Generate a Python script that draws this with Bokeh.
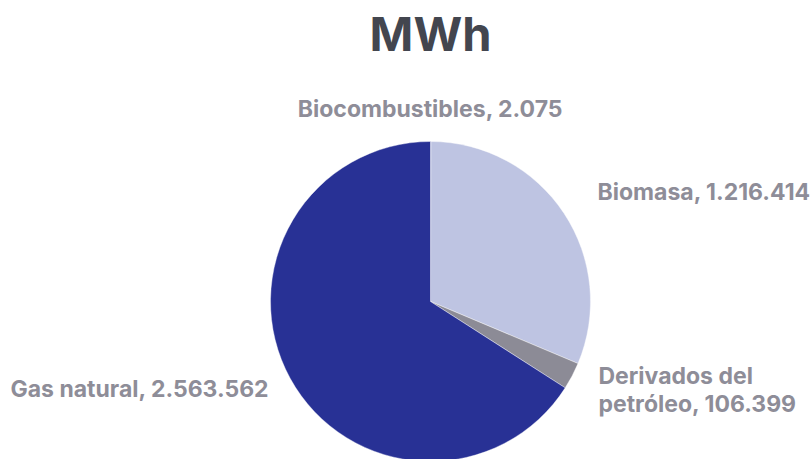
import math
from bokeh.plotting import figure
from bokeh.models import Range1d, ColumnDataSource
from bokeh.core.properties import value
from bokeh.embed import file_html
from bokeh.resources import INLINE

# ---- data ----
categories = ["Biocombustibles", "Biomasa", "Derivados del petróleo", "Gas natural"]
values_mwh = [2075, 1216414, 106399, 2563562]
colors = ["#C9CDE6", "#BEC4E2", "#8C8B96", "#283195"]
title_text = "MWh"

W, H = 810, 459
CX, CY, R = 430, H - 301, 160

def fmt(v):
    return f"{v:,}".replace(",", ".")

total = float(sum(values_mwh))
starts, ends = [], []
cum = 0.0
for v in values_mwh:
    a0 = math.pi / 2 - 2 * math.pi * (cum + v) / total
    a1 = math.pi / 2 - 2 * math.pi * cum / total
    starts.append(a0)
    ends.append(a1)
    cum += v

src = ColumnDataSource(dict(start=starts, end=ends, color=colors, cat=categories, val=values_mwh))

p = figure(width=W, height=H, output_backend="svg", toolbar_location=None,
           x_range=Range1d(0, W), y_range=Range1d(0, H),
           x_axis_location=None, y_axis_location=None, min_border=0)
p.outline_line_color = None
p.grid.visible = False
p.background_fill_color = "white"
p.border_fill_color = "white"

p.wedge(x=CX, y=CY, radius=R, start_angle="start", end_angle="end",
        color="color", line_color="white", line_width=0.4, source=src)

font = value("Inter")
label_color = "#8E8D98"
fs = "23px"

# labels (layout positions near each slice)
p.text(x=[CX], y=[H - 108], text=[f"{categories[0]}, {fmt(values_mwh[0])}"],
       text_align="center", text_baseline="middle", text_font=font,
       text_font_style="bold", text_font_size=fs, text_color=label_color)
p.text(x=[597], y=[H - 191], text=[f"{categories[1]}, {fmt(values_mwh[1])}"],
       text_align="left", text_baseline="middle", text_font=font,
       text_font_style="bold", text_font_size=fs, text_color=label_color)
p.text(x=[598, 598], y=[H - 375, H - 403],
       text=["Derivados del", f"petróleo, {fmt(values_mwh[2])}"],
       text_align="left", text_baseline="middle", text_font=font,
       text_font_style="bold", text_font_size=fs, text_color=label_color)
p.text(x=[10], y=[H - 388], text=[f"{categories[3]}, {fmt(values_mwh[3])}"],
       text_align="left", text_baseline="middle", text_font=font,
       text_font_style="bold", text_font_size=fs, text_color=label_color)

# title
p.text(x=[CX], y=[H - 33], text=[title_text], text_align="center",
       text_baseline="middle", text_font=font, text_font_style="bold",
       text_font_size="47px", text_color="#43464F")

open("out.html", "w").write(file_html(p, INLINE))
